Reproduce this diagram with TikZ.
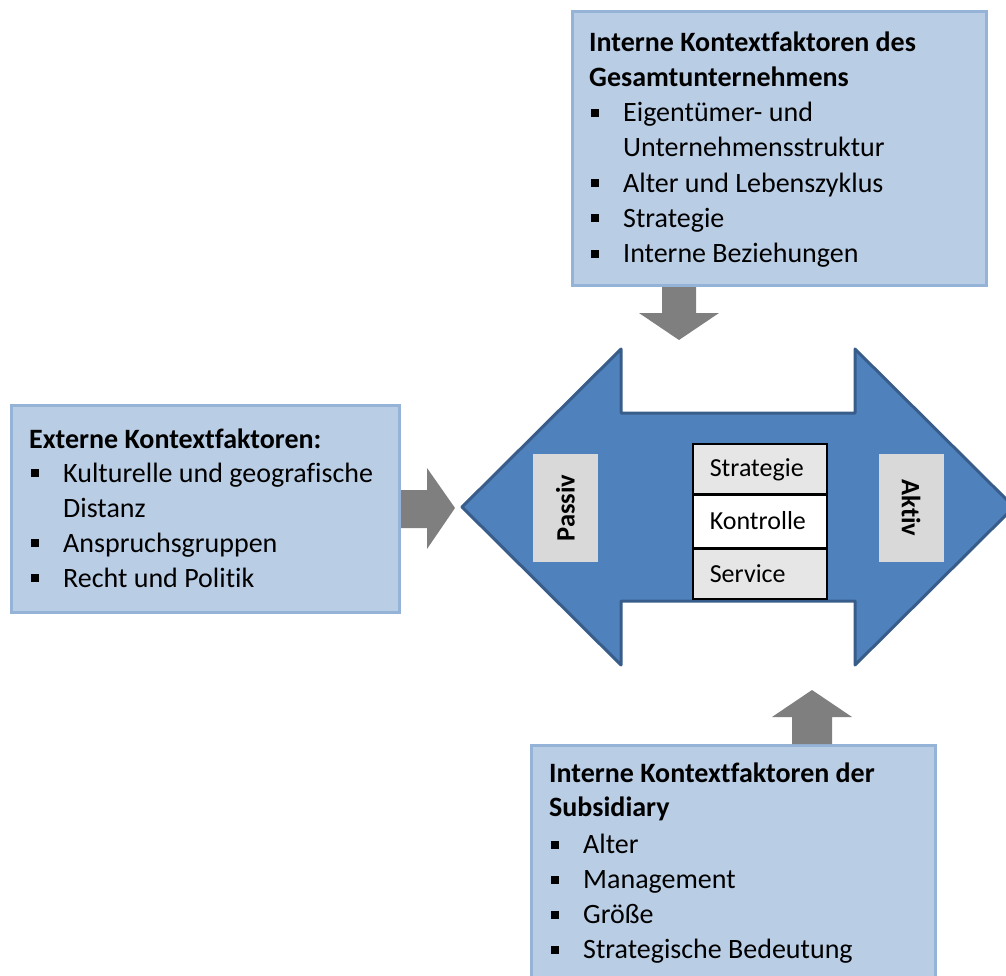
\documentclass[tikz,border=0pt]{standalone}
\usepackage{fontspec}
\setmainfont{Carlito}[Ligatures={NoCommon}]
\usetikzlibrary{calc}

\definecolor{boxfill}{HTML}{B9CDE5}
\definecolor{boxline}{HTML}{95B3D7}
\definecolor{arrowgray}{HTML}{7F7F7F}
\definecolor{bigblue}{HTML}{4F81BD}
\definecolor{bigblueline}{HTML}{385D8A}
\definecolor{cellgray}{HTML}{E6E6E6}
\definecolor{sidegray}{HTML}{D9D9D9}

% square list bullet followed by the indent of the item text
\newcommand\blt{\makebox[34pt][l]{\hspace{2pt}\rule[5pt]{8pt}{8pt}}}

\tikzset{
  ctxbox/.style={rectangle, draw=boxline, fill=boxfill, line width=3pt, inner sep=0pt},
  body/.style={inner sep=0pt, anchor=base west, font=\fontsize{28}{35}\selectfont},
  head/.style={body, font=\fontsize{28}{35}\selectfont\bfseries},
  grayarrow/.style={fill=arrowgray, draw=none},
  bigarrow/.style={fill=bigblue, draw=bigblueline, line width=3pt, line join=round},
  cell/.style={rectangle, draw=black, line width=1.6pt, minimum width=134pt, text width=100pt,
               inner xsep=17pt, inner ysep=0pt, align=left, text height=16pt, text depth=0pt,
               font=\fontsize{26}{30}\selectfont, anchor=north west},
  sidebox/.style={rectangle, fill=sidegray, draw=none, minimum width=108pt, minimum height=65pt,
               inner sep=0pt, font=\fontsize{26.5}{30}\selectfont\bfseries}
}

\begin{document}
\begin{tikzpicture}[x=1pt, y=-1pt]
\useasboundingbox (0,0) rectangle (1006,976);
\clip (0,0) rectangle (1006,976);

% central double arrow: passive <-> active
\draw[bigarrow] (462,507) -- (621,349) -- (621,413) -- (855,413) -- (855,349)
  -- (1014,507) -- (855,665) -- (855,601) -- (621,601) -- (621,665) -- cycle;

% context boxes
\node[ctxbox, minimum width=414pt, minimum height=274pt, anchor=north west] (gesamt) at (571,10) {};
\node[ctxbox, minimum width=388pt, minimum height=207pt, anchor=north west] (extern) at (10,404) {};
\node[ctxbox, minimum width=404pt, minimum height=260pt, anchor=north west] (subs) at (530,744) {};

% block arrows from the boxes towards the centre
\coordinate (gA) at (gesamt.south -| 679,0);
\fill[grayarrow] (gA) ++(-17,0) -- ++(0,26) -- ++(-23,0) -- ++(40,27) -- ++(40,-27) -- ++(-23,0) -- ++(0,-26) -- cycle;
\coordinate (eA) at (extern.east |- 0,509);
\fill[grayarrow] (eA) ++(0,-19) -- ++(26,0) -- ++(0,-22) -- ++(28,40) -- ++(-28,41) -- ++(0,-21) -- ++(-26,0) -- cycle;
\coordinate (sA) at (subs.north -| 812,0);
\fill[grayarrow] (sA) ++(-20,0) -- ++(0,-27) -- ++(-20,0) -- ++(40,-27) -- ++(40,27) -- ++(-20,0) -- ++(0,27) -- cycle;

% side labels inside the double arrow
\node[sidebox, rotate=90] (passiv) at (565.5,508) {Passiv};
\node[sidebox, rotate=-90] (aktiv) at (911,508) {Aktiv};

% stacked roles in the middle
\node[cell, fill=cellgray, minimum height=50pt] (strat) at (692,443) {Strategie};
\node[cell, fill=white, minimum height=52pt] (kontr) at (strat.south west) {Kontrolle};
\node[cell, fill=cellgray, minimum height=50pt] (serv) at (kontr.south west) {Service};

% texts: company-wide internal factors
\node[head] (g1) at (589,52) {Interne Kontextfaktoren des};
\node[head] (g2) at (589,87) {Gesamtunternehmens};
\node[body] (g3) at (589,122) {\blt Eigentümer- und};
\node[body] (g4) at (589,157) {\hspace*{34pt}Unternehmensstruktur};
\node[body] (g5) at (589,192.5) {\blt Alter und Lebenszyklus};
\node[body] (g6) at (589,227.5) {\blt Strategie};
\node[body] (g7) at (589,262.5) {\blt Interne Beziehungen};

% texts: external factors
\node[head] (e1) at (29,448) {Externe Kontextfaktoren:};
\node[body] (e2) at (29,482) {\blt Kulturelle und geografische};
\node[body] (e3) at (29,517) {\hspace*{34pt}Distanz};
\node[body] (e4) at (29,552) {\blt Anspruchsgruppen};
\node[body] (e5) at (29,587) {\blt Recht und Politik};

% texts: subsidiary factors
\node[head] (s1) at (549,782.5) {Interne Kontextfaktoren der};
\node[head] (s2) at (549,816.5) {Subsidiary};
\node[body] (s3) at (549,853.5) {\blt Alter};
\node[body] (s4) at (549,888.5) {\blt Management};
\node[body] (s5) at (549,923.5) {\blt Größe};
\node[body] (s6) at (549,958.5) {\blt Strategische Bedeutung};
\end{tikzpicture}
\end{document}
